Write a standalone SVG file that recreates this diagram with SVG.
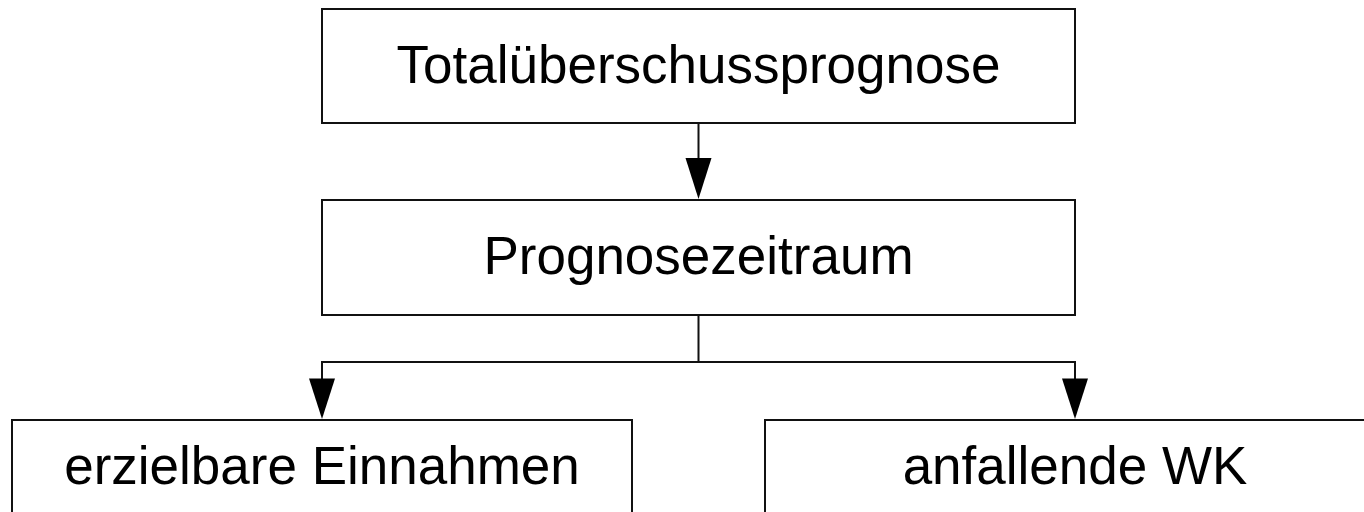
<svg xmlns="http://www.w3.org/2000/svg" width="1364" height="512" viewBox="0 0 1364 512">
<defs>
<style>
.box{fill:#fff;stroke:#111;stroke-width:2}
.lbl{font-family:"Liberation Sans",Arial,sans-serif;font-size:53px;fill:#000;text-anchor:middle}
.conn{fill:none;stroke:#111;stroke-width:2}
.head{fill:#000;stroke:none}
</style>
</defs>
<rect width="1364" height="512" fill="#fff"/>
<g id="n1"><rect class="box" x="322" y="9" width="753" height="114"/><text class="lbl" x="698.5" y="82.5">Totalüberschussprognose</text></g>
<g id="n2"><rect class="box" x="322" y="200" width="753" height="115"/><text class="lbl" x="698.5" y="274">Prognosezeitraum</text></g>
<g id="n3"><rect class="box" x="12" y="420" width="620" height="115"/><text class="lbl" x="322" y="484">erzielbare Einnahmen</text></g>
<g id="n4"><rect class="box" x="765" y="420" width="620" height="115"/><text class="lbl" x="1075" y="484">anfallende WK</text></g>
<g id="connectors">
<path class="conn" d="M698.5 123V160"/>
<polygon class="head" points="685.5,158 711.5,158 698.5,199"/>
<path class="conn" d="M698.5 315V362M322 380V362H1075V380"/>
<polygon class="head" points="309,378.5 335,378.5 322,419"/>
<polygon class="head" points="1062,378.5 1088,378.5 1075,419"/>
</g>
</svg>
